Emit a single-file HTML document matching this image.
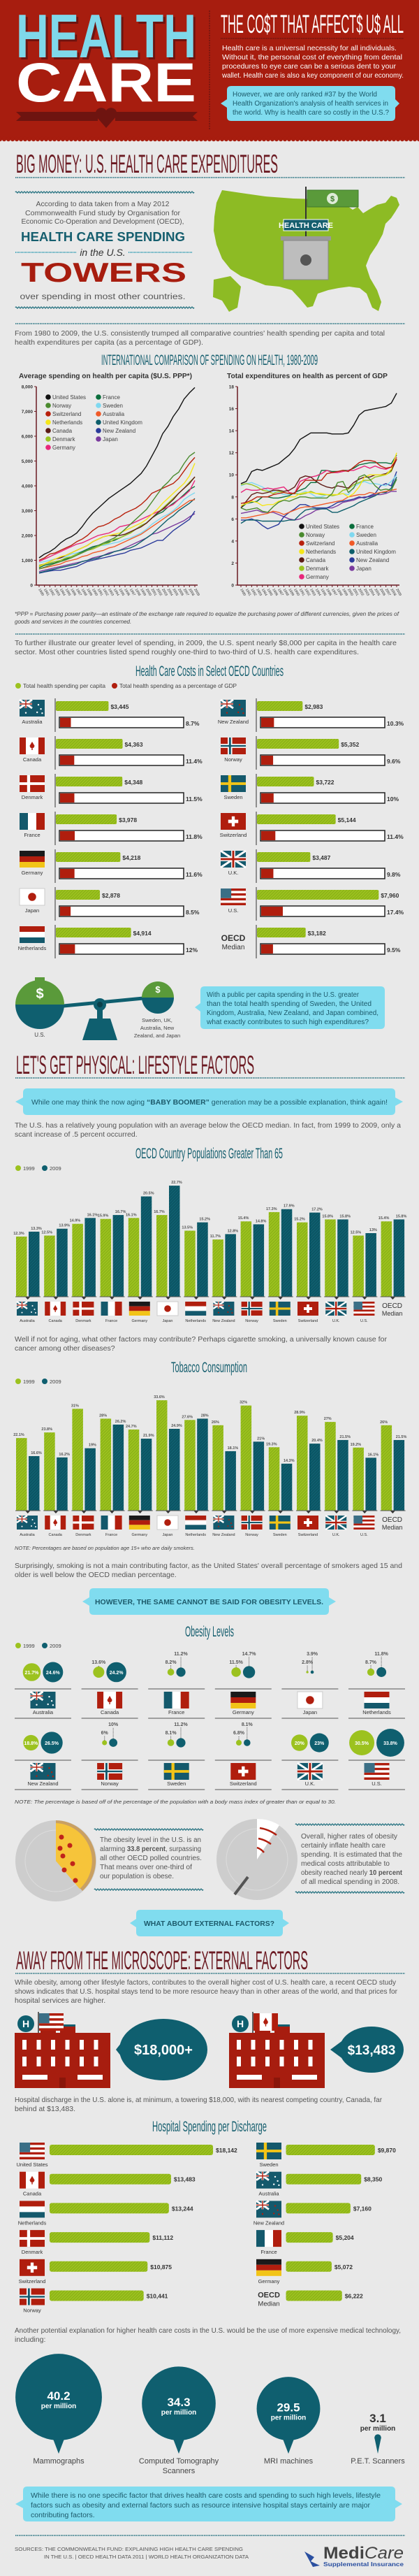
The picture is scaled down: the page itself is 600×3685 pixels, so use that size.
<!DOCTYPE html>
<html><head><meta charset="utf-8"><title>Health Care: The Cost That Affects Us All</title>
<style>
html,body{margin:0;padding:0;background:#e9e9e9;}
svg{display:block;font-family:"Liberation Sans",sans-serif;}
.n{font-family:"Liberation Sans Narrow","Liberation Sans",sans-serif;}
</style></head>
<body>
<svg id="root" xmlns="http://www.w3.org/2000/svg" width="600" height="3685" viewBox="0 0 600 3685">
<defs>
<pattern id="hatchG" width="3" height="3" patternUnits="userSpaceOnUse" patternTransform="rotate(45)"><rect width="3" height="3" fill="#9cc21f"/><rect width="1" height="3" fill="#86ad14"/></pattern>
<pattern id="hatchT" width="3" height="3" patternUnits="userSpaceOnUse" patternTransform="rotate(45)"><rect width="3" height="3" fill="#0f5f6f"/><rect width="1" height="3" fill="#0a4f5d"/></pattern>
</defs>
<rect x="0" y="0" width="600" height="3685" fill="#e9e9e9"/>

<!-- HEADER -->
<g>
<rect x="0" y="0" width="600" height="200" fill="#a71d0f"/>
<g id="scallop"></g>
<text x="26" y="85" font-size="88" font-weight="bold" fill="#6e1410" textLength="258" lengthAdjust="spacingAndGlyphs">HEALTH</text>
<text x="23" y="82" font-size="88" font-weight="bold" fill="#7fd8ea" textLength="258" lengthAdjust="spacingAndGlyphs">HEALTH</text>
<text x="23" y="145" font-size="79" font-weight="bold" fill="#ffffff" textLength="258" lengthAdjust="spacingAndGlyphs">CARE</text>
<path d="M23,160 L140,160 L140,173 L23,173 L30,166.5 Z M165,160 L283,160 L276,166.5 L283,173 L165,173 Z" fill="#6e1410"/>
<path d="M152,183 L138,167 A7.5,7.5 0 0 1 152,158 A7.5,7.5 0 0 1 166,167 Z" fill="#6e1410"/>
<line x1="300" y1="15" x2="300" y2="185" stroke="#6e1410" stroke-width="1.5" stroke-dasharray="2,1.5"/>
<text class="n" x="316" y="47" font-size="37" fill="#fff" textLength="262" lengthAdjust="spacingAndGlyphs">THE CO$T THAT AFFECT$ U$ ALL</text>
<line x1="316" y1="55" x2="578" y2="55" stroke="#6e1410" stroke-width="1.5" stroke-dasharray="1.5,1"/>
<g fill="#fff" font-size="10.5">
<text x="318" y="72" textLength="250" lengthAdjust="spacingAndGlyphs">Health care is a universal necessity for all individuals.</text>
<text x="318" y="85" textLength="258" lengthAdjust="spacingAndGlyphs">Without it, the personal cost of everything from dental</text>
<text x="318" y="98" textLength="249" lengthAdjust="spacingAndGlyphs">procedures to eye care can be a serious dent to your</text>
<text x="318" y="111" textLength="260" lengthAdjust="spacingAndGlyphs">wallet. Health care is also a key component of our economy.</text>
</g>
<path d="M331,123 L560,123 Q566,123 566,129 L566,142 L572,148 L566,154 L566,167 Q566,173 560,173 L331,173 Q325,173 325,167 L325,154 L316,148 L325,142 L325,129 Q325,123 331,123 Z" fill="#80dcef"/>
<g fill="#1c5a6b" font-size="10.5">
<text x="333" y="138" textLength="207" lengthAdjust="spacingAndGlyphs">However, we are only ranked #37 by the World</text>
<text x="333" y="151" textLength="223" lengthAdjust="spacingAndGlyphs">Health Organization's analysis of health services in</text>
<text x="333" y="164" textLength="224" lengthAdjust="spacingAndGlyphs">the world. Why is health care so costly in the U.S.?</text>
</g>
</g>

<!-- BIG MONEY -->
<text class="n" x="23" y="247" font-size="37" fill="#6b1a22" textLength="375" lengthAdjust="spacingAndGlyphs">BIG MONEY: U.S. HEALTH CARE EXPENDITURES</text>
<line x1="22" y1="254" x2="580" y2="254" stroke="#1a6b7a" stroke-width="1.5" stroke-dasharray="1.5,1"/>
<g id="wavy1"></g>
<g fill="#555" font-size="10" text-anchor="middle">
<text x="147" y="295" textLength="191" lengthAdjust="spacingAndGlyphs">According to data taken from a May 2012</text>
<text x="147" y="308" textLength="222" lengthAdjust="spacingAndGlyphs">Commonwealth Fund study by Organisation for</text>
<text x="147" y="320" textLength="233" lengthAdjust="spacingAndGlyphs">Economic Co-Operation and Development (OECD),</text>
</g>
<text x="30" y="345" font-size="18" font-weight="bold" fill="#155e6e" textLength="235" lengthAdjust="spacingAndGlyphs">HEALTH CARE SPENDING</text>
<line x1="22" y1="361" x2="110" y2="361" stroke="#3aa0b5" stroke-width="2" stroke-dasharray="1,1"/>
<line x1="184" y1="361" x2="275" y2="361" stroke="#3aa0b5" stroke-width="2" stroke-dasharray="1,1"/>
<text x="147" y="366" font-size="14" font-style="italic" fill="#333" text-anchor="middle">in the U.S.</text>
<text x="30" y="403" font-size="39" font-weight="bold" fill="#a71d0f" textLength="237" lengthAdjust="spacingAndGlyphs">TOWERS</text>
<text x="147" y="428" font-size="11.5" fill="#555" text-anchor="middle" textLength="237" lengthAdjust="spacingAndGlyphs">over spending in most other countries.</text>
<g>
<path d="M318,272 L345,276 L380,281 L420,284 L455,285 L480,287 L495,293 L505,300 L512,296 L520,305 L528,300 L540,293 L552,290 L560,280 L568,283 L572,293 L566,303 L560,312 L552,320 L548,335 L540,350 L530,365 L524,380 L530,398 L540,415 L546,432 L542,445 L533,440 L525,420 L515,412 L500,410 L485,412 L470,415 L455,420 L448,438 L440,440 L430,428 L418,415 L400,410 L380,408 L360,400 L345,395 L330,385 L318,370 L310,350 L306,330 L307,310 L310,290 Z M306,400 L330,395 L345,410 L340,440 L328,446 L318,430 L305,425 Z" fill="#8dbb24"/>
<line x1="438" y1="267" x2="438" y2="375" stroke="#333" stroke-width="2"/>
<rect x="440" y="272" width="73" height="24" fill="#5a9a3a" stroke="#3d7a2a"/>
<circle cx="476" cy="284" r="8" fill="#fff" opacity=".8"/>
<text x="476" y="288" font-size="11" font-weight="bold" fill="#3d7a2a" text-anchor="middle">$</text>
<rect x="406" y="314" width="64" height="16" fill="#155e6e" stroke="#fff"/>
<text class="n" x="438" y="326" font-size="11" font-weight="bold" fill="#fff" text-anchor="middle">HEALTH CARE</text>
<rect x="402" y="338" width="72" height="6" fill="#999"/>
<rect x="406" y="344" width="64" height="56" fill="#bdbdbd" stroke="#888"/>
<circle cx="438" cy="372" r="8" fill="#555"/>
</g>

<!-- LINE CHARTS -->
<line x1="22" y1="463" x2="580" y2="463" stroke="#1a6b7a" stroke-width="1.5" stroke-dasharray="1.5,1"/>
<g fill="#555" font-size="10.5">
<text x="21" y="480" textLength="530" lengthAdjust="spacingAndGlyphs">From 1980 to 2009, the U.S. consistently trumped all comparative countries' health spending per capita and total</text>
<text x="21" y="493" textLength="270" lengthAdjust="spacingAndGlyphs">health expenditures per capita (as a percentage of GDP).</text>
</g>
<text class="n" x="145" y="522" font-size="21" fill="#155e6e" textLength="310" lengthAdjust="spacingAndGlyphs">INTERNATIONAL COMPARISON OF SPENDING ON HEALTH, 1980-2009</text>
<text x="27" y="541" font-size="10.5" font-weight="bold" fill="#333" textLength="248" lengthAdjust="spacingAndGlyphs">Average spending on health per capita ($U.S. PPP*)</text>
<text x="325" y="541" font-size="10.5" font-weight="bold" fill="#333" textLength="230" lengthAdjust="spacingAndGlyphs">Total expenditures on health as percent of GDP</text>
<g id="chartCap"></g>
<g id="chartGdp"></g>
<g fill="#444" font-size="8" font-style="italic">
<text x="21" y="881" textLength="550" lengthAdjust="spacingAndGlyphs">*PPP = Purchasing power parity—an estimate of the exchange rate required to equalize the purchasing power of different currencies, given the prices of</text>
<text x="21" y="892">goods and services in the countries concerned.</text>
</g>

<!-- COST BARS -->
<line x1="22" y1="907" x2="580" y2="907" stroke="#1a6b7a" stroke-width="1.5" stroke-dasharray="1.5,1"/>
<g fill="#555" font-size="10.5">
<text x="21" y="923" textLength="547" lengthAdjust="spacingAndGlyphs">To further illustrate our greater level of spending, in 2009, the U.S. spent nearly $8,000 per capita in the health care</text>
<text x="21" y="936" textLength="493" lengthAdjust="spacingAndGlyphs">sector. Most other countries listed spend roughly one-third to two-third of U.S. health care expenditures.</text>
</g>
<text class="n" x="194" y="967" font-size="21" fill="#155e6e" textLength="212" lengthAdjust="spacingAndGlyphs">Health Care Costs in Select OECD Countries</text>
<g>
<circle cx="26" cy="981" r="4" fill="#9cc21f"/>
<text x="33" y="984" font-size="8.5" fill="#444" textLength="118" lengthAdjust="spacingAndGlyphs">Total health spending per capita</text>
<circle cx="164" cy="981" r="4" fill="#b01e0e"/>
<text x="171" y="984" font-size="8.5" fill="#444" textLength="168" lengthAdjust="spacingAndGlyphs">Total health spending as a percentage of GDP</text>
</g>
<g id="costRows"></g>

<g>
<line x1="60" y1="1442" x2="226" y2="1426" stroke="#0f5f6f" stroke-width="5"/>
<path d="M22,1437 A35,35 0 0 1 92,1437 Z" fill="#5a9a3a"/>
<path d="M22,1437 A35,35 0 0 0 92,1437 Z" fill="#0f5f6f"/>
<rect x="50" y="1398" width="14" height="6" fill="#5a9a3a"/>
<text x="57" y="1428" font-size="20" font-weight="bold" fill="#fff" text-anchor="middle">$</text>
<path d="M203,1427 A23,23 0 0 1 249,1427 Z" fill="#5a9a3a"/>
<path d="M203,1427 A23,23 0 0 0 249,1427 Z" fill="#0f5f6f"/>
<text x="226" y="1420" font-size="13" font-weight="bold" fill="#fff" text-anchor="middle">$</text>
<rect x="139" y="1437" width="8" height="22" fill="#0f5f6f"/>
<circle cx="143" cy="1437" r="9" fill="#0f5f6f"/>
<circle cx="143" cy="1437" r="4" fill="#0a3f4a"/>
<path d="M128,1457 L158,1457 L168,1488 L118,1488 Z" fill="#0f5f6f"/>
<text x="57" y="1483" font-size="8" fill="#444" text-anchor="middle">U.S.</text>
<text x="225" y="1462" font-size="7.5" fill="#444" text-anchor="middle">Sweden, UK,</text>
<text x="225" y="1473" font-size="7.5" fill="#444" text-anchor="middle">Australia, New</text>
<text x="225" y="1484" font-size="7.5" fill="#444" text-anchor="middle">Zealand, and Japan</text>
</g>
<path d="M293,1411 L545,1411 Q551,1411 551,1417 L551,1466 Q551,1472 545,1472 L293,1472 Q287,1472 287,1466 L287,1447 L279,1441 L287,1435 L287,1417 Q287,1411 293,1411 Z" fill="#80dcef"/>
<g fill="#1c5a6b" font-size="10">
<text x="296" y="1426" textLength="218" lengthAdjust="spacingAndGlyphs">With a public per capita spending in the U.S. greater</text>
<text x="296" y="1439" textLength="236" lengthAdjust="spacingAndGlyphs">than the total health spending of Sweden, the United</text>
<text x="296" y="1452" textLength="246" lengthAdjust="spacingAndGlyphs">Kingdom, Australia, New Zealand, and Japan combined,</text>
<text x="296" y="1465" textLength="232" lengthAdjust="spacingAndGlyphs">what exactly contributes to such high expenditures?</text>
</g>

<!-- LIFESTYLE -->
<text class="n" x="23" y="1536" font-size="37" fill="#6b1a22" textLength="341" lengthAdjust="spacingAndGlyphs">LET'S GET PHYSICAL: LIFESTYLE FACTORS</text>
<line x1="22" y1="1542" x2="580" y2="1542" stroke="#1a6b7a" stroke-width="1.5" stroke-dasharray="1.5,1"/>
<path d="M39,1557 L560,1557 Q566,1557 566,1563 L566,1570 L577,1576 L566,1582 L566,1589 Q566,1595 560,1595 L39,1595 Q33,1595 33,1589 L33,1582 L22,1576 L33,1570 L33,1563 Q33,1557 39,1557 Z" fill="#80dcef"/>
<text x="45" y="1580" font-size="10.5" fill="#1c5a6b" textLength="510" lengthAdjust="spacingAndGlyphs">While one may think the now aging <tspan font-weight="bold">“BABY BOOMER”</tspan> generation may be a possible explanation, think again!</text>
<g fill="#555" font-size="10.5">
<text x="21" y="1613" textLength="553" lengthAdjust="spacingAndGlyphs">The U.S. has a relatively young population with an average below the OECD median. In fact, from 1999 to 2009, only a</text>
<text x="21" y="1626">scant increase of .5 percent occurred.</text>
</g>
<text class="n" x="194" y="1657" font-size="21" fill="#155e6e" textLength="211" lengthAdjust="spacingAndGlyphs">OECD Country Populations Greater Than 65</text>
<g id="pop65"></g>
<g fill="#555" font-size="10.5">
<text x="21" y="1919" textLength="533" lengthAdjust="spacingAndGlyphs">Well if not for aging, what other factors may contribute? Perhaps cigarette smoking, a universally known cause for</text>
<text x="21" y="1932">cancer among other diseases?</text>
</g>
<text class="n" x="245" y="1963" font-size="21" fill="#155e6e" textLength="109" lengthAdjust="spacingAndGlyphs">Tobacco Consumption</text>
<g id="tobacco"></g>
<text x="21" y="2217" font-size="7.5" font-style="italic" fill="#444">NOTE: Percentages are based on population age 15+ who are daily smokers.</text>
<g fill="#555" font-size="10.5">
<text x="21" y="2243" textLength="555" lengthAdjust="spacingAndGlyphs">Surprisingly, smoking is not a main contributing factor, as the United States' overall percentage of smokers aged 15 and</text>
<text x="21" y="2256">older is well below the OECD median percentage.</text>
</g>
<path d="M134,2272 L465,2272 Q471,2272 471,2278 L471,2285 L481,2291 L471,2297 L471,2304 Q471,2310 465,2310 L134,2310 Q128,2310 128,2304 L128,2297 L118,2291 L128,2285 L128,2278 Q128,2272 134,2272 Z" fill="#80dcef"/>
<text x="136" y="2295" font-size="10" font-weight="bold" fill="#1c5a6b" textLength="327" lengthAdjust="spacingAndGlyphs">HOWEVER, THE SAME CANNOT BE SAID FOR OBESITY LEVELS.</text>
<text class="n" x="265" y="2341" font-size="21" fill="#155e6e" textLength="70" lengthAdjust="spacingAndGlyphs">Obesity Levels</text>
<g id="obesity"></g>
<text x="21" y="2580" font-size="7.5" font-style="italic" fill="#444" textLength="460" lengthAdjust="spacingAndGlyphs">NOTE: The percentage is based off of the percentage of the population with a body mass index of greater than or equal to 30.</text>

<g>
<circle cx="80" cy="2662" r="58" fill="#cdcdcd"/>
<circle cx="80" cy="2662" r="44" fill="none" stroke="#dcdcdc"/>
<path d="M80,2604 A58,58 0 0 1 118,2705 L80,2662 Z" fill="#c9a063"/>
<path d="M80,2608 A54,54 0 0 1 114,2702 L80,2662 Z" fill="#f6c43a"/>
<circle cx="88" cy="2628" r="3.5" fill="#c0241a"/><circle cx="100" cy="2640" r="3.5" fill="#c0241a"/><circle cx="90" cy="2655" r="3.5" fill="#c0241a"/><circle cx="104" cy="2666" r="3.5" fill="#c0241a"/><circle cx="92" cy="2675" r="3.5" fill="#c0241a"/><circle cx="108" cy="2690" r="3.5" fill="#c0241a"/><circle cx="86" cy="2644" r="3.5" fill="#c0241a"/>
</g>
<g id="wavy2"></g>
<g fill="#555" font-size="10">
<text x="143" y="2635" textLength="145" lengthAdjust="spacingAndGlyphs">The obesity level in the U.S. is an</text>
<text x="143" y="2648" textLength="145" lengthAdjust="spacingAndGlyphs">alarming <tspan font-weight="bold">33.8 percent</tspan>, surpassing</text>
<text x="143" y="2661" textLength="146" lengthAdjust="spacingAndGlyphs">all other OECD polled countries.</text>
<text x="143" y="2674" textLength="132" lengthAdjust="spacingAndGlyphs">That means over one-third of</text>
<text x="143" y="2687" textLength="106" lengthAdjust="spacingAndGlyphs">our population is obese.</text>
</g>
<g>
<circle cx="368" cy="2660" r="58" fill="#cdcdcd"/>
<circle cx="368" cy="2660" r="44" fill="none" stroke="#dcdcdc"/>
<path d="M368,2602 A58,58 0 0 1 400,2611 L368,2660 Z" fill="#fff"/>
<path d="M372,2615 Q385,2617 396,2625 M370,2630 Q380,2632 388,2638 M368,2643 Q374,2645 378,2650" stroke="#b01e0e" stroke-width="2.5" fill="none"/>
<path d="M336,2710 L355,2685" stroke="#555" stroke-width="4"/>
</g>
<g fill="#555" font-size="10">
<text x="431" y="2630" textLength="138" lengthAdjust="spacingAndGlyphs">Overall, higher rates of obesity</text>
<text x="431" y="2643" textLength="121" lengthAdjust="spacingAndGlyphs">certainly inflate health care</text>
<text x="431" y="2656" textLength="145" lengthAdjust="spacingAndGlyphs">spending. It is estimated that the</text>
<text x="431" y="2669" textLength="127" lengthAdjust="spacingAndGlyphs">medical costs attributable to</text>
<text x="431" y="2682" textLength="145" lengthAdjust="spacingAndGlyphs">obesity reached nearly <tspan font-weight="bold">10 percent</tspan></text>
<text x="431" y="2695" textLength="141" lengthAdjust="spacingAndGlyphs">of all medical spending in 2008.</text>
</g>

<path d="M201,2732 L399,2732 Q405,2732 405,2738 L405,2745 L414,2751 L405,2757 L405,2764 Q405,2770 399,2770 L201,2770 Q195,2770 195,2764 L195,2757 L186,2751 L195,2745 L195,2738 Q195,2732 201,2732 Z" fill="#80dcef"/>
<text x="206" y="2755" font-size="10" font-weight="bold" fill="#1c5a6b" textLength="187" lengthAdjust="spacingAndGlyphs">WHAT ABOUT EXTERNAL FACTORS?</text>

<!-- EXTERNAL -->
<text class="n" x="23" y="2817" font-size="37" fill="#6b1a22" textLength="418" lengthAdjust="spacingAndGlyphs">AWAY FROM THE MICROSCOPE: EXTERNAL FACTORS</text>
<line x1="22" y1="2823" x2="580" y2="2823" stroke="#1a6b7a" stroke-width="1.5" stroke-dasharray="1.5,1"/>
<g fill="#555" font-size="10.5">
<text x="21" y="2839" textLength="546" lengthAdjust="spacingAndGlyphs">While obesity, among other lifestyle factors, contributes to the overall higher cost of U.S. health care, a recent OECD study</text>
<text x="21" y="2852" textLength="548" lengthAdjust="spacingAndGlyphs">shows indicates that U.S. hospital stays tend to be more resource heavy than in other areas of the world, and that prices for</text>
<text x="21" y="2865">hospital services are higher.</text>
</g>
<g id="hospitals"></g>
<g fill="#555" font-size="10.5">
<text x="21" y="3007" textLength="526" lengthAdjust="spacingAndGlyphs">Hospital discharge in the U.S. alone is, at minimum, a towering $18,000, with its nearest competing country, Canada, far</text>
<text x="21" y="3020">behind at $13,483.</text>
</g>
<text class="n" x="218" y="3049" font-size="21" fill="#155e6e" textLength="164" lengthAdjust="spacingAndGlyphs">Hospital Spending per Discharge</text>
<g id="discharge"></g>
<g fill="#555" font-size="10.5">
<text x="21" y="3337" textLength="553" lengthAdjust="spacingAndGlyphs">Another potential explanation for higher health care costs in the U.S. would be the use of more expensive medical technology,</text>
<text x="21" y="3350">including:</text>
</g>
<g id="tech"></g>
<path d="M39,3557 L560,3557 Q566,3557 566,3563 L566,3576 L576,3582 L566,3588 L566,3601 Q566,3607 560,3607 L39,3607 Q33,3607 33,3601 L33,3588 L22,3582 L33,3576 L33,3563 Q33,3557 39,3557 Z" fill="#80dcef"/>
<g fill="#1c5a6b" font-size="10.5">
<text x="44" y="3573" textLength="501" lengthAdjust="spacingAndGlyphs">While there is no one specific factor that drives health care costs and spending to such high levels, lifestyle</text>
<text x="44" y="3587" textLength="486" lengthAdjust="spacingAndGlyphs">factors such as obesity and external factors such as resource intensive hospital stays certainly are major</text>
<text x="44" y="3601">contributing factors.</text>
</g>
<line x1="22" y1="3627" x2="580" y2="3627" stroke="#1a6b7a" stroke-width="1.5" stroke-dasharray="1.5,1"/>
<g fill="#555" font-size="7.5">
<text x="21" y="3649" textLength="327" lengthAdjust="spacingAndGlyphs">SOURCES: THE COMMONWEALTH FUND: EXPLAINING HIGH HEALTH CARE SPENDING</text>
<text x="63" y="3660" textLength="293" lengthAdjust="spacingAndGlyphs">IN THE U.S. | OECD HEALTH DATA 2011 | WORLD HEALTH ORGANIZATION DATA</text>
</g>
<g>
<path d="M436,3650 L450,3658 L445,3664 L458,3670 L448,3672 Z" fill="#2a4fa0"/>
<text x="463" y="3660" font-size="24" font-weight="bold" fill="#444" textLength="115" lengthAdjust="spacingAndGlyphs">Medi<tspan font-style="italic" font-weight="normal">Care</tspan></text>
<text x="463" y="3671" font-size="8.5" font-weight="bold" fill="#2a4fa0" textLength="115" lengthAdjust="spacingAndGlyphs">Supplemental Insurance</text>
</g>
</svg>

<script>
// ===== DATA =====
const years = [1980,1981,1982,1983,1984,1985,1986,1987,1988,1989,1990,1991,1992,1993,1994,1995,1996,1997,1998,1999,2000,2001,2002,2003,2004,2005,2006,2007,2008,2009];
const seriesNames = ['United States','Norway','Switzerland','Netherlands','Canada','Denmark','Germany','France','Sweden','Australia','United Kingdom','New Zealand','Japan'];
const capUS = [1100,1250,1350,1500,1700,1850,1950,2100,2350,2650,2900,3100,3300,3500,3650,3800,3950,4100,4300,4500,4800,5200,5600,6100,6400,6800,7100,7500,7750,7960];
const capNorway = [650,720,800,880,950,1020,1100,1200,1300,1400,1500,1600,1700,1800,1900,2050,2250,2450,2650,2850,3050,3350,3650,3950,4150,4400,4550,4900,5200,5352];
const capSwitzerland = [1000,1100,1250,1300,1400,1500,1600,1750,1850,2000,2200,2350,2400,2500,2650,2750,2900,3000,3100,3250,3450,3700,3800,3900,4000,4100,4300,4600,4900,5144];
const capNetherlands = [750,850,950,1050,1150,1200,1300,1400,1500,1600,1750,1850,1950,2000,2050,2100,2200,2300,2400,2500,2650,2850,3050,3300,3500,3700,3900,4100,4400,4914];
const capCanada = [750,850,950,1050,1100,1200,1300,1400,1500,1600,1750,1850,1950,2000,2000,2000,2050,2150,2250,2350,2500,2700,2900,3050,3250,3450,3700,3900,4100,4363];
const capDenmark = [800,850,900,950,1000,1100,1150,1250,1300,1400,1450,1550,1650,1700,1850,1900,2000,2100,2250,2400,2500,2700,2900,3100,3300,3500,3700,3900,4150,4348];
const capGermany = [950,1050,1150,1250,1350,1450,1550,1650,1700,1800,1900,2000,2050,2100,2200,2350,2400,2450,2550,2650,2750,2850,2950,3050,3150,3250,3450,3600,3800,4218];
const capFrance = [700,800,850,900,1000,1050,1150,1250,1350,1450,1550,1600,1650,1750,1800,1900,2000,2100,2250,2400,2500,2700,2850,2950,3150,3300,3450,3650,3850,3978];
const capSweden = [900,950,1000,1050,1100,1150,1250,1300,1350,1450,1550,1600,1600,1650,1700,1750,1850,1900,2000,2100,2250,2450,2600,2750,2850,3000,3200,3450,3600,3722];
const capAustralia = [650,700,750,800,850,950,1000,1050,1150,1200,1300,1350,1400,1500,1550,1650,1750,1850,1950,2050,2200,2350,2500,2650,2800,2950,3100,3250,3400,3445];
const capUK = [500,550,600,650,700,750,800,850,950,1000,1050,1100,1200,1250,1350,1400,1450,1500,1600,1750,1900,2050,2250,2450,2650,2800,3000,3150,3300,3487];
const capNZ = [480,530,570,600,600,650,700,750,850,950,1000,1050,1100,1150,1200,1250,1300,1400,1450,1500,1600,1700,1800,1800,2000,2200,2350,2500,2650,2983];
const capJapan = [550,600,650,700,750,800,850,900,950,1000,1100,1150,1200,1300,1350,1400,1500,1600,1700,1800,1900,2050,2100,2200,2300,2400,2500,2600,2750,2878];
const gdpUS = [9.2,9.4,10.3,10.5,10.4,10.6,10.8,11.0,11.4,11.8,12.4,13.2,13.5,13.8,13.8,13.8,13.8,13.7,13.7,13.7,13.8,14.5,15.4,15.8,15.9,16.0,16.1,16.2,16.5,17.4];
const gdpNorway = [7.0,6.8,6.9,7.0,6.7,6.6,7.1,7.5,7.7,7.6,7.8,8.0,8.0,7.9,7.9,7.9,7.9,8.3,9.3,9.4,8.4,8.8,9.8,10.0,9.6,9.0,8.6,8.7,8.6,9.6];
const gdpSwitzerland = [7.4,7.5,7.7,8.0,8.0,8.0,8.2,8.3,8.4,8.3,8.3,9.0,9.5,9.5,9.5,9.5,10.1,10.2,10.3,10.4,10.3,10.7,11.1,11.3,11.3,11.2,10.8,10.6,10.7,11.4];
const gdpNetherlands = [7.2,7.4,7.6,7.5,7.2,7.3,7.3,7.6,7.7,8.0,8.0,8.3,8.4,8.4,8.3,8.3,8.2,8.2,8.2,8.3,8.0,8.3,8.9,9.8,10.0,10.0,10.0,10.0,10.5,12.0];
const gdpCanada = [7.0,7.6,8.2,8.4,8.3,8.4,8.6,8.6,8.5,8.6,8.9,9.7,9.9,9.8,9.4,9.1,8.9,8.8,9.0,8.9,8.8,9.3,9.6,9.8,9.8,10.0,10.0,10.1,10.4,11.4];
const gdpDenmark = [9.1,9.2,9.1,8.9,8.6,8.5,8.3,8.5,8.4,8.3,8.3,8.2,8.3,8.5,8.3,8.2,8.2,8.1,8.2,8.6,8.7,9.1,9.3,9.5,9.5,9.8,9.9,10.0,10.3,11.5];
const gdpGermany = [8.4,8.7,8.6,8.6,8.7,8.8,8.7,8.8,8.9,8.4,8.3,9.4,9.6,9.8,9.9,10.1,10.4,10.2,10.2,10.3,10.4,10.4,10.6,10.8,10.6,10.8,10.6,10.5,10.7,11.6];
const gdpFrance = [7.0,7.4,7.5,7.6,8.0,8.0,7.9,7.9,8.0,8.1,8.4,8.6,8.8,9.3,9.3,10.4,10.4,10.3,10.3,10.4,10.4,10.6,10.9,11.0,11.1,11.1,11.1,11.1,11.0,11.8];
const gdpSweden = [9.0,9.2,9.3,9.1,8.9,8.6,8.5,8.4,8.2,8.2,8.3,8.3,8.5,8.3,8.0,8.0,8.2,8.1,8.2,8.3,8.2,8.9,9.2,9.4,9.2,9.2,9.1,9.0,9.4,10.0];
const gdpAustralia = [6.1,6.1,6.2,6.3,6.4,6.5,6.7,6.6,6.4,6.6,6.8,7.0,7.1,7.1,7.2,7.3,7.4,7.5,7.6,7.7,8.0,8.1,8.2,8.2,8.4,8.3,8.4,8.5,8.6,8.7];
const gdpUK = [5.6,5.9,5.9,5.9,5.8,5.8,5.8,5.8,5.8,5.9,5.9,6.4,6.8,6.9,6.9,6.9,6.9,6.6,6.6,6.8,7.0,7.2,7.5,7.7,7.9,8.1,8.4,8.4,8.8,9.8];
const gdpNZ = [5.9,5.9,6.0,5.8,5.4,5.1,5.3,5.5,6.2,6.6,6.9,7.3,7.3,7.1,7.0,7.0,7.0,7.2,7.5,7.6,7.7,7.8,8.0,7.9,8.1,8.3,9.0,9.2,9.0,10.3];
const gdpJapan = [6.5,6.6,6.7,6.8,6.6,6.6,6.6,6.4,6.2,6.0,5.9,6.0,6.3,6.5,6.8,6.9,7.0,7.0,7.2,7.5,7.6,7.7,7.9,8.0,8.0,8.2,8.2,8.3,8.5,8.5];
const capTicks = [0,1000,2000,3000,4000,5000,6000,7000,8000];
const gdpTicks = [0,2,4,6,8,10,12,14,16,18];

const costLeftNames = ['Australia','Canada','Denmark','France','Germany','Japan','Netherlands'];
const costLeftCapita = [3445,4363,4348,3978,4218,2878,4914];
const costLeftGdp = [8.7,11.4,11.5,11.8,11.6,8.5,12];
const costRightNames = ['New Zealand','Norway','Sweden','Switzerland','U.K.','U.S.','OECD Median'];
const costRightCapita = [2983,5352,3722,5144,3487,7960,3182];
const costRightGdp = [10.3,9.6,10,11.4,9.8,17.4,9.5];

const barCountries = ['Australia','Canada','Denmark','France','Germany','Japan','Netherlands','New Zealand','Norway','Sweden','Switzerland','U.K.','U.S.','OECD Median'];
const pop1999 = [12.3,12.5,14.9,15.9,16.1,16.7,13.5,11.7,15.4,17.3,15.2,15.8,12.5,15.4];
const pop2009 = [13.3,13.9,16.1,16.7,20.5,22.7,15.2,12.8,14.8,17.9,17.2,15.8,13,15.8];
const tob1999 = [22.1,23.8,31,28,24.7,33.6,27.6,26,32,19.3,28.9,27,19.2,26];
const tob2009 = [16.6,16.2,19,26.2,21.9,24.9,28,18.1,21,14.3,20.4,21.5,16.1,21.5];

const obCountries = ['Australia','Canada','France','Germany','Japan','Netherlands','New Zealand','Norway','Sweden','Switzerland','U.K.','U.S.'];
const ob1999 = [21.7,13.6,8.2,11.5,2.8,8.7,18.8,6,8.1,6.8,20,30.5];
const ob2009 = [24.6,24.2,11.2,14.7,3.9,11.8,26.5,10,11.2,8.1,23,33.8];

const dischLeftNames = ['United States','Canada','Netherlands','Denmark','Switzerland','Norway'];
const dischLeftVals = [18142,13483,13244,11112,10875,10441];
const dischRightNames = ['Sweden','Australia','New Zealand','France','Germany','OECD Median'];
const dischRightVals = [9870,8350,7160,5204,5072,6222];

const techNames = ['Mammographs','Computed Tomography Scanners','MRI machines','P.E.T. Scanners'];
const techVals = [40.2,34.3,29.5,3.1];

// ===== HELPERS =====
const NS='http://www.w3.org/2000/svg';
function mk(tag,attrs,parent){const e=document.createElementNS(NS,tag);for(const k in attrs)e.setAttribute(k,attrs[k]);parent.appendChild(e);return e;}
function tx(str,attrs,parent){const e=mk('text',attrs,parent);e.textContent=str;return e;}
const G='#9cc21f',T='#0f5f6f',R='#b01e0e',FT='#14596c';
const colors={'United States':'#111','Norway':'#4a8a2e','Switzerland':'#b8200c','Netherlands':'#f5e61a','Canada':'#5c1a14','Denmark':'#9bc422','Germany':'#e8267a','France':'#0b6e3c','Sweden':'#7fd8f0','Australia':'#f05a28','United Kingdom':'#0d5e6b','New Zealand':'#2a3a9a','Japan':'#7a3a9e'};
function fmt(v){return '$'+v.toLocaleString('en-US');}

function flag(p,name,x,y,w,h){
  const g=mk('g',{},p);
  
  
  const r=(a,b,c,d,f)=>mk('rect',{x:x+a,y:y+b,width:c,height:d,fill:f},g);
  const ujack=(cw,ch)=>{r(0,0,cw,ch,FT);mk('path',{d:`M${x},${y} L${x+cw},${y+ch} M${x+cw},${y} L${x},${y+ch}`,stroke:'#fff','stroke-width':h*0.12},g);r(cw*0.42,0,cw*0.16,ch,'#fff');r(0,ch*0.38,cw,ch*0.24,'#fff');r(cw*0.46,0,cw*0.08,ch,R);r(0,ch*0.44,cw,ch*0.12,R);};
  switch(name){
    case 'Australia': case 'New Zealand':
      r(0,0,w,h,FT);ujack(w*0.5,h*0.5);
      const sc=name==='Australia'?'#fff':R;
      [[0.75,0.3],[0.85,0.55],[0.7,0.75],[0.9,0.8],[0.25,0.78]].forEach(s=>mk('circle',{cx:x+w*s[0],cy:y+h*s[1],r:h*0.05,fill:sc},g));break;
    case 'Canada': r(0,0,w,h,'#fff');r(0,0,w*0.25,h,R);r(w*0.75,0,w*0.25,h,R);mk('path',{d:`M${x+w/2},${y+h*0.25} L${x+w*0.6},${y+h*0.5} L${x+w*0.56},${y+h*0.62} L${x+w*0.44},${y+h*0.62} L${x+w*0.4},${y+h*0.5} Z`,fill:R},g);r(w*0.48,h*0.6,w*0.04,h*0.15,R);break;
    case 'Denmark': r(0,0,w,h,R);r(w*0.3,0,w*0.12,h,'#fff');r(0,h*0.42,w,h*0.16,'#fff');break;
    case 'France': r(0,0,w/3,h,FT);r(w/3,0,w/3,h,'#fff');r(2*w/3,0,w/3,h,R);break;
    case 'Germany': r(0,0,w,h/3,'#1a1a1a');r(0,h/3,w,h/3,R);r(0,2*h/3,w,h/3,'#f2c418');break;
    case 'Japan': r(0,0,w,h,'#fff');mk('rect',{x:x,y:y,width:w,height:h,fill:'none',stroke:'#ccc'},g);mk('circle',{cx:x+w/2,cy:y+h/2,r:h*0.24,fill:R},g);break;
    case 'Netherlands': r(0,0,w,h/3,R);r(0,h/3,w,h/3,'#fff');r(0,2*h/3,w,h/3,FT);break;
    case 'Norway': r(0,0,w,h,R);r(w*0.28,0,w*0.18,h,'#fff');r(0,h*0.38,w,h*0.24,'#fff');r(w*0.33,0,w*0.08,h,FT);r(0,h*0.45,w,h*0.1,FT);break;
    case 'Sweden': r(0,0,w,h,FT);r(w*0.3,0,w*0.12,h,'#f2c418');r(0,h*0.42,w,h*0.16,'#f2c418');break;
    case 'Switzerland': r(0,0,w,h,R);r(w*0.44,h*0.2,w*0.12,h*0.6,'#fff');r(w*0.3,h*0.4,w*0.4,h*0.2,'#fff');break;
    case 'U.K.': ujack(w,h);break;
    default: for(let i=0;i<7;i++)r(0,i*h/7,w,h/7,i%2?'#fff':R);r(0,0,w*0.42,h*4/7,'#3b6f86');
  }
  return g;
}

// scallop
(function(){const g=document.getElementById('scallop');for(let x=0;x<=600;x+=6){const c=mk('circle',{cx:x,cy:199,r:3.2,fill:'#a71d0f'},g);}})();
// wavy lines
function wavy(p,x0,x1,y){let d=`M${x0},${y}`;for(let x=x0;x<x1;x+=4)d+=` q1,-2 2,0 q1,2 2,0`;mk('path',{d:d,stroke:'#1a6b7a','stroke-width':1.3,fill:'none'},p);}
(function(){const g=document.getElementById('wavy1');wavy(g,22,275,275);wavy(g,22,275,440);
const g2=document.getElementById('wavy2');wavy(g2,135,290,2617);wavy(g2,135,290,2703);wavy(g2,423,578,2610);wavy(g2,423,578,2707);})();

// ===== LINE CHARTS =====
function lineChart(gid,x0,x1,axisX,yTop,yBot,max,ticks,tickFmt,data,legX1,legX2,legY){
  const g=document.getElementById(gid);
  const xs=i=>x0+(x1-x0)*i/(years.length-1);
  const ys=v=>yBot-(yBot-yTop)*v/max;
  const ax=mk('path',{d:`M${axisX},${yTop} L${axisX},${yBot} L${x1+4},${yBot}`,stroke:'#6b1a22','stroke-width':1.5,fill:'none'},g);
  
  ticks.forEach(t=>{
    mk('line',{x1:axisX-3,x2:axisX,y1:ys(t),y2:ys(t),stroke:'#6b1a22'},g);
    const l=tx(tickFmt(t),{x:axisX-5,y:ys(t)+2.5,'font-size':6.5,'text-anchor':'end',fill:'#333','font-weight':'bold'},g);
    
  });
  years.forEach((yr,i)=>{
    mk('line',{x1:xs(i),x2:xs(i),y1:yBot,y2:yBot+3,stroke:'#6b1a22'},g);
    const l=tx(String(yr),{x:xs(i)-1,y:yBot+6,'font-size':5,fill:'#333',transform:`rotate(60 ${xs(i)-1} ${yBot+6})`},g);
    
  });
  data.slice().reverse().forEach(([name,vals])=>{
    const pl=mk('polyline',{points:vals.map((v,i)=>xs(i).toFixed(1)+','+ys(v).toFixed(1)).join(' '),fill:'none',stroke:colors[name],'stroke-width':1.4,'stroke-linejoin':'round'},g);
    
  });
  const col1=['United States','Norway','Switzerland','Netherlands','Canada','Denmark','Germany'];
  const col2=['France','Sweden','Australia','United Kingdom','New Zealand','Japan'];
  [[col1,legX1],[col2,legX2]].forEach(([names,lx])=>names.forEach((n,k)=>{
    const e=mk('g',{},g);
    
    mk('circle',{cx:lx,cy:legY+12*k,r:3.8,fill:colors[n]},e);
    tx(n,{x:lx+6,y:legY+12*k+3,'font-size':8,fill:'#444'},e);
  }));
}
lineChart('chartCap',56,279,52,553,837,8000,capTicks,t=>t.toLocaleString('en-US'),
 [['United States',capUS],['Norway',capNorway],['Switzerland',capSwitzerland],['Netherlands',capNetherlands],['Canada',capCanada],['Denmark',capDenmark],['Germany',capGermany],['France',capFrance],['Sweden',capSweden],['Australia',capAustralia],['United Kingdom',capUK],['New Zealand',capNZ],['Japan',capJapan]],69,141,568);
lineChart('chartGdp',345,568,340,553,837,18,gdpTicks,t=>String(t),
 [['United States',gdpUS],['Norway',gdpNorway],['Switzerland',gdpSwitzerland],['Netherlands',gdpNetherlands],['Canada',gdpCanada],['Denmark',gdpDenmark],['Germany',gdpGermany],['France',gdpFrance],['Sweden',gdpSweden],['Australia',gdpAustralia],['United Kingdom',gdpUK],['New Zealand',gdpNZ],['Japan',gdpJapan]],432,504,753);

// ===== COST ROWS =====
(function(){
  const g=document.getElementById('costRows');
  const capScale=0.0219, boxW=178;
  function col(names,caps,gdps,flagX,axisX){
    names.forEach((n,i)=>{
      const top=1001+54*i;
      const row=mk('g',{},g);
      
      if(n==='OECD Median'){tx('OECD',{x:flagX+18,y:top+21,'font-size':12,'font-weight':'bold',fill:'#333','text-anchor':'middle'},row);tx('Median',{x:flagX+18,y:top+33,'font-size':10,fill:'#333','text-anchor':'middle'},row);}
      else{flag(row,n==='New Zealand'?'New Zealand':n,flagX,top,36,24);tx(n,{x:flagX+18,y:top+34,'font-size':7.5,fill:'#333','text-anchor':'middle'},row);}
      mk('line',{x1:axisX,x2:axisX,y1:top-2,y2:top+46,stroke:'#333','stroke-width':1},row);
      const w=caps[i]*capScale;
      const b=mk('rect',{x:axisX+1,y:top+2,width:w,height:14,rx:2,fill:'url(#hatchG)'},row);
      
      tx(fmt(caps[i]),{x:axisX+w+4,y:top+13,'font-size':8.5,'font-weight':'bold',fill:'#333'},row);
      mk('rect',{x:axisX+6,y:top+25,width:boxW,height:15,fill:'#fff',stroke:'#222','stroke-width':1.5},row);
      const rb=mk('rect',{x:axisX+7,y:top+26,width:gdps[i]/100*boxW,height:13,fill:R},row);
      
      tx(gdps[i]+'%',{x:axisX+boxW+9,y:top+37,'font-size':8.5,'font-weight':'bold',fill:'#333'},row);
    });
  }
  col(costLeftNames,costLeftCapita,costLeftGdp,28,79);
  col(costRightNames,costRightCapita,costRightGdp,316,367);
})();

// ===== GROUPED BARS =====
function legend(g,y){
  const l=mk('g',{},g);
  
  mk('circle',{cx:26,cy:y,r:4,fill:G},l);tx('1999',{x:33,y:y+3,'font-size':7.5,fill:'#444'},l);
  mk('circle',{cx:64,cy:y,r:4,fill:T},l);tx('2009',{x:71,y:y+3,'font-size':7.5,fill:'#444'},l);
}
function groupBars(gid,v1,v2,base,scale,legY,flagY){
  const g=document.getElementById(gid);
  legend(g,legY);
  barCountries.forEach((n,i)=>{
    const x=23+40.2*i;
    const grp=mk('g',{},g);
    
    const h1=v1[i]*scale,h2=v2[i]*scale;
    const b1=mk('rect',{x:x,y:base-h1,width:15.5,height:h1,fill:'url(#hatchG)'},grp);
    
    const b2=mk('rect',{x:x+18,y:base-h2,width:15.5,height:h2,fill:'url(#hatchT)'},grp);
    
    tx(v1[i]+'%',{x:x+4,y:base-h1-3,'font-size':5.5,'font-weight':'bold',fill:'#555','text-anchor':'middle'},grp);
    tx(v2[i]+'%',{x:x+29,y:base-h2-3,'font-size':5.5,'font-weight':'bold',fill:'#555','text-anchor':'middle'},grp);
    mk('path',{d:`M${x+13},${base} L${x+20.5},${base} L${x+16.75},${base+4} Z`,fill:'#333'},grp);
    mk('line',{x1:x-1,x2:x+35,y1:base,y2:base,stroke:'#555','stroke-width':1},grp);
    if(n==='OECD Median'){tx('OECD',{x:x+16,y:flagY+9,'font-size':10,fill:'#333','text-anchor':'middle'},grp);tx('Median',{x:x+16,y:flagY+20,'font-size':9,fill:'#333','text-anchor':'middle'},grp);}
    else{flag(grp,n,x+1,flagY,30,20);tx(n,{x:x+16,y:flagY+29,'font-size':5.5,fill:'#333','text-anchor':'middle'},grp);}
  });
}
groupBars('pop65',pop1999,pop2009,1855,7,1671,1862);
groupBars('tobacco',tob1999,tob2009,2161,4.7,1976,2168);

// ===== OBESITY =====
(function(){
  const g=document.getElementById('obesity');
  legend(g,2354);
  obCountries.forEach((n,i)=>{
    const c=i%6,rw=Math.floor(i/6);
    const x0=21+95.6*c,cx=x0+40.5;
    const cy=rw?2493:2392, line1=rw?2518:2416, flagY=rw?2522:2420, line2=rw?2560:2458;
    const cell=mk('g',{},g);
    
    const r1=ob1999[i]*0.59,r2=ob2009[i]*0.59;
    const tot=2*r1+3+2*r2, c1=cx-tot/2+r1, c2=cx+tot/2-r2;
    const k1=mk('circle',{cx:c1,cy:cy,r:r1,fill:G},cell);
    
    const k2=mk('circle',{cx:c2,cy:cy,r:r2,fill:T},cell);
    
    [[ob1999[i],c1,r1,12],[ob2009[i],c2,r2,24]].forEach(([v,px,rr,off])=>{
      if(rr>=10){tx(v+'%',{x:px,y:cy+3,'font-size':7,'font-weight':'bold',fill:'#fff','text-anchor':'middle'},cell);}
      else{mk('line',{x1:px,x2:px,y1:cy-rr,y2:cy-off+2,stroke:'#555','stroke-dasharray':'1,1'},cell);tx(v+'%',{x:px,y:cy-off,'font-size':7,'font-weight':'bold',fill:'#555','text-anchor':'middle'},cell);}
    });
    mk('line',{x1:x0,x2:x0+81,y1:line1,y2:line1,stroke:'#555','stroke-width':1},cell);
    flag(cell,n,cx-18,flagY,36,24);
    tx(n,{x:cx,y:flagY+32,'font-size':7.5,fill:'#333','text-anchor':'middle'},cell);
    mk('line',{x1:x0,x2:x0+81,y1:line2,y2:line2,stroke:'#555','stroke-width':1},cell);
  });
})();

// ===== HOSPITALS =====
(function(){
  const g=document.getElementById('hospitals');
  function bldg(x,fl,bx,brx,bry,label,fs){
    const b=mk('g',{},g);
    
    mk('rect',{x:x+37,y:2898,width:22,height:10,fill:'#a71d0f'},b);
    mk('rect',{x:x+65,y:2898,width:22,height:10,fill:'#a71d0f'},b);
    mk('rect',{x:x+37,y:2896,width:22,height:3,fill:T},b);
    mk('rect',{x:x+65,y:2896,width:22,height:3,fill:T},b);
    mk('rect',{x:x,y:2908,width:137,height:79,fill:'#a71d0f'},b);
    for(let rr=0;rr<2;rr++)for(let c=0;c<6;c++){mk('rect',{x:x+11+c*20.5,y:2918+rr*24,width:6,height:14,fill:'#fff'},b);mk('rect',{x:x+13.5,y:2918,width:0,height:0},b);}
    mk('rect',{x:x+11,y:2968,width:36,height:7,fill:'#fff'},b);mk('rect',{x:x+90,y:2968,width:36,height:7,fill:'#fff'},b);
    mk('rect',{x:x+64,y:2972,width:9,height:15,fill:'#8a160a'},b);
    mk('circle',{cx:x+16,cy:2895,r:12,fill:T},b);
    tx('H',{x:x+16,y:2900,'font-size':14,'font-weight':'bold',fill:'#fff','text-anchor':'middle'},b);
    mk('line',{x1:x+34,x2:x+34,y1:2878,y2:2908,stroke:'#333','stroke-width':1.5},b);
    flag(b,fl,x+35,2880,35,25);
    const bub=mk('g',{},g);
    
    mk('ellipse',{cx:bx,cy:2932,rx:brx,ry:bry,fill:T},bub);
    mk('path',{d:`M${bx-brx+6},2918 L${x+145},2932 L${bx-brx+6},2946 Z`,fill:T},bub);
    tx(label,{x:bx,y:2939,'font-size':fs,'font-weight':'bold',fill:'#fff','text-anchor':'middle'},bub);
  }
  bldg(21,'U.S.',234,63,44,'$18,000+',20);
  bldg(328,'Canada',532,46,33,'$13,483',19);
})();

// ===== DISCHARGE =====
(function(){
  const g=document.getElementById('discharge');
  const sc=0.0129;
  function col(names,vals,flagX,barX){
    names.forEach((n,i)=>{
      const top=3068+41.7*i;
      const row=mk('g',{},g);
      
      if(n==='OECD Median'){tx('OECD',{x:flagX+18,y:top+10,'font-size':11,'font-weight':'bold',fill:'#333','text-anchor':'middle'},row);tx('Median',{x:flagX+18,y:top+22,'font-size':9.5,fill:'#333','text-anchor':'middle'},row);}
      else{flag(row,n==='United States'?'U.S.':n,flagX,top-3,36,24);tx(n,{x:flagX+18,y:top+31,'font-size':7.5,fill:'#333','text-anchor':'middle'},row);}
      const w=vals[i]*sc;
      const b=mk('rect',{x:barX,y:top,width:w,height:15,rx:3,fill:'url(#hatchG)'},row);
      
      tx(fmt(vals[i]),{x:barX+w+4,y:top+11,'font-size':8.5,'font-weight':'bold',fill:'#333'},row);
    });
  }
  col(dischLeftNames,dischLeftVals,28,71);
  col(dischRightNames,dischRightVals,367,409.5);
})();

// ===== TECH BUBBLES =====
(function(){
  const g=document.getElementById('tech');
  const techX=[84,256,413,541];
  techNames.forEach((n,i)=>{
    const v=techVals[i],r=v*1.54,cx=techX[i],cy=3491-r;
    const b=mk('g',{},g);
    
    if(r>10){
      mk('circle',{cx:cx,cy:cy,r:r,fill:T},b);
      mk('path',{d:`M${cx-8},${3489} L${cx},${3510} L${cx+8},${3489} Z`,fill:T},b);
      tx(String(v),{x:cx,y:cy+4,'font-size':17,'font-weight':'bold',fill:'#fff','text-anchor':'middle'},b);
      tx('per million',{x:cx,y:cy+16,'font-size':10,'font-weight':'bold',fill:'#fff','text-anchor':'middle'},b);
    } else {
      mk('circle',{cx:cx,cy:3487,r:r,fill:T},b);
      mk('path',{d:`M${cx-r},${3487} L${cx},${3510} L${cx+r},${3487} Z`,fill:T},b);
      tx(String(v),{x:cx,y:3465,'font-size':17,'font-weight':'bold',fill:'#333','text-anchor':'middle'},b);
      tx('per million',{x:cx,y:3477,'font-size':10,'font-weight':'bold',fill:'#333','text-anchor':'middle'},b);
    }
    if(n==='Computed Tomography Scanners'){tx('Computed Tomography',{x:cx,y:3524,'font-size':11,fill:'#444','text-anchor':'middle'},b);tx('Scanners',{x:cx,y:3538,'font-size':11,fill:'#444','text-anchor':'middle'},b);}
    else tx(n,{x:cx,y:3524,'font-size':11,fill:'#444','text-anchor':'middle'},b);
  });
})();
</script>
</body></html>
